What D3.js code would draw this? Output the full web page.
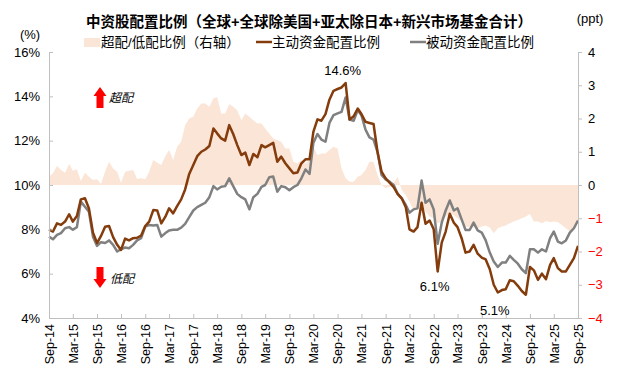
<!DOCTYPE html>
<html>
<head>
<meta charset="utf-8">
<script src="https://cdn.jsdelivr.net/npm/d3@7"></script>
<style>
  body { margin: 0; background: #fff; }
  svg text { font-family: "Liberation Sans", Arial, "Noto Sans CJK SC", sans-serif; }
</style>
</head>
<body>
<div id="chart"></div>
<script>
// monthly data, Sep-14 .. Sep-25
var startMonth = new Date(2014, 8, 1);
var endMonth = new Date(2025, 8, 1);

// 主动资金配置比例 (%)
var activeShare = [
  8.0, 7.9, 8.27, 8.2, 8.35, 8.68, 8.35, 8.6, 9.35, 9.4, 8.95, 7.85, 7.38, 7.7, 8.12, 8.15,
  7.65, 7.3, 7.07, 7.58, 7.5, 7.6, 7.62, 7.72, 8.15, 8.35, 8.87, 8.85, 8.27, 8.57, 8.95, 8.72,
  9.05, 9.35, 9.8, 10.5, 10.9, 11.3, 11.5, 11.6, 11.76, 12.55, 12.33, 12.1, 12.0, 12.7, 12.3, 11.8,
  11.35, 11.46, 10.9, 11.4, 11.25, 11.8, 11.7, 11.8, 11.9, 11.05, 11.28, 10.98, 10.75, 10.53, 10.56, 10.98,
  11.16, 11.16, 12.4, 12.96, 12.9, 13.2, 13.85, 14.25, 14.33, 14.4, 14.6, 12.95, 13.1, 13.45, 13.2, 12.85,
  12.8, 12.75, 11.5, 10.6, 10.3, 10.1, 9.9, 9.6, 9.4, 9.0, 8.0, 7.9, 8.1, 9.2, 8.25, 8.4,
  8.0, 6.1, 7.4, 7.9, 8.7, 8.3, 8.1, 7.6, 6.95, 7.0, 7.3, 6.9, 6.72, 6.64, 6.2, 5.5,
  5.15, 5.26, 5.3, 5.7, 5.66, 5.45, 5.22, 5.05, 6.3, 6.15, 5.72, 6.0, 5.75, 6.4, 6.7, 6.25,
  6.1, 6.1, 6.4, 6.7, 7.25
];

// 被动资金配置比例 (%)
var passiveShare = [
  7.67, 7.55, 7.75, 7.83, 8.05, 8.1, 7.98, 8.1, 9.25, 9.02, 8.8, 7.67, 7.25, 7.42, 7.38, 7.5,
  7.3, 7.0, 7.1, 7.18, 7.15, 7.3, 7.5, 7.6, 8.12, 8.2, 8.17, 8.2, 7.67, 7.83, 7.95, 7.98,
  7.98, 8.08, 8.25, 8.55, 8.85, 9.0, 9.1, 9.2, 9.45, 9.95, 9.8, 9.92, 9.95, 10.3, 9.95, 9.6,
  9.45, 9.35, 8.9, 9.45, 9.6, 9.92, 10.0, 10.35, 10.38, 9.7, 9.95, 9.9, 9.76, 9.9, 10.0, 10.3,
  10.7, 10.5, 11.9, 12.3, 12.05, 11.95, 12.8, 13.15, 13.23, 13.3, 13.95, 12.95, 12.9, 13.38, 13.15, 12.5,
  12.15, 12.05, 11.5, 10.45, 10.25, 10.15, 10.0, 9.6, 9.4, 9.1, 8.75, 8.9, 8.95, 10.2, 9.2, 9.35,
  8.9, 7.35, 8.3, 8.85, 9.3, 8.85, 8.95, 8.45, 7.97, 7.97, 8.3, 7.95, 7.85, 7.5, 6.95, 6.55,
  6.3, 6.5, 6.5, 6.8, 6.62, 6.45, 6.2, 6.02, 7.1, 7.1, 6.95, 7.1, 7.0, 7.6, 7.9, 7.45,
  7.37, 7.5, 7.85, 8.05, 8.4
];

// 超配/低配比例 (ppt, right axis)
var overUnder = [
  0.25, 0.35, 0.57, 0.45, 0.37, 0.63, 0.43, 0.47, 0.12, 0.37, 0.25, 0.15, 0.17, 0.03, 0.4, 0.7,
  0.5, 0.4, 0.07, 0.4, 0.43, 0.45, 0.18, 0.2, 0.17, 0.4, 0.75, 0.67, 0.6, 0.87, 1.05, 0.75,
  1.15, 1.3, 1.8, 2.0, 2.05, 2.3, 2.45, 2.45, 2.35, 2.6, 2.65, 2.15, 2.15, 2.43, 2.35, 2.25,
  1.95, 2.15, 2.05, 1.95, 1.85, 1.85, 1.7, 1.55, 1.4, 1.35, 1.3, 1.1, 1.1, 0.7, 0.65, 0.75,
  0.65, 0.75, 1.15, 0.9, 0.95, 0.95, 1.05, 1.15, 1.1, 0.5, 0.2, 0.1, 0.1, 0.25, 0.3, 0.45,
  0.7, 0.7, 0.3, 0.0, -0.1, -0.05, 0.05, 0.25, -0.15, -0.3, -0.5, -0.75, -0.7, -0.6, -0.8, -0.95,
  -1.0, -1.15, -1.1, -0.95, -0.85, -0.9, -1.0, -1.1, -1.25, -1.27, -1.28, -1.3, -1.25, -1.22, -1.28, -1.45,
  -1.3, -1.25, -1.22, -1.15, -1.1, -1.05, -1.0, -0.95, -0.87, -1.1, -1.1, -1.15, -1.08, -1.12, -1.1, -1.12,
  -1.2, -1.3, -1.4, -1.3, -1.1
];

var leftTicks = [4, 6, 8, 10, 12, 14, 16];
var rightTicks = [-4, -3, -2, -1, 0, 1, 2, 3, 4];

// labelled points: [index, text, vertical offset]
var callouts = [[74, "14.6%", -8], [97, "6.1%", 20], [112, "5.1%", 22]];

var legendItems = ["超配/低配比例（右轴）", "主动资金配置比例", "被动资金配置比例"];

var months = activeShare.map(function(d, i) { return d3.timeMonth.offset(startMonth, i); });

var W = 617, H = 373;
var margin = {top: 52, right: 39, bottom: 55, left: 49};
var width = W - margin.left - margin.right,
    height = H - margin.top - margin.bottom;

var svg = d3.select("#chart").append("svg")
    .attr("width", W)
    .attr("height", H);

var g = svg.append("g")
    .attr("transform", "translate(" + margin.left + "," + margin.top + ")");

// scales
var x = d3.scaleTime().domain([startMonth, endMonth]).range([0, width]);
var yL = d3.scaleLinear().domain([4, 16]).range([height, 0]);
var yR = d3.scaleLinear().domain([-4, 4]).range([height, 0]);

var axisColor = "#bfbfbf";

// area on right axis
var area = d3.area()
    .x(function(d, i) { return x(months[i]); })
    .y0(yR(0))
    .y1(function(d) { return yR(d); });

g.append("path")
    .attr("d", area(overUnder))
    .style("fill", "#fbe5d6")
    .style("stroke", "none");

// lines
var line = d3.line()
    .x(function(d, i) { return x(months[i]); })
    .y(function(d) { return yL(d); });

g.append("path")
    .attr("d", line(passiveShare))
    .style("fill", "none")
    .style("stroke", "#808080")
    .style("stroke-width", 2.5)
    .style("stroke-linejoin", "round");

g.append("path")
    .attr("d", line(activeShare))
    .style("fill", "none")
    .style("stroke", "#843c0c")
    .style("stroke-width", 2.5)
    .style("stroke-linejoin", "round");

// x axis, every 6 months starting Sep-14
var xTicks = d3.timeMonth.range(startMonth, d3.timeMonth.offset(endMonth, 1), 6);
var xAxis = g.append("g")
    .attr("transform", "translate(0," + height + ")")
    .call(d3.axisBottom(x).tickValues(xTicks).tickFormat(d3.timeFormat("%b-%y")).tickSize(-4).tickSizeOuter(0));
xAxis.select(".domain").attr("stroke", axisColor);
xAxis.selectAll(".tick line").attr("stroke", axisColor);
xAxis.selectAll(".tick text")
    .attr("transform", "rotate(-90)")
    .attr("x", -6)
    .attr("y", 0)
    .attr("dy", "0.35em")
    .style("text-anchor", "end")
    .style("font-size", "12.5px")
    .style("fill", "#000");

// left axis
var leftAxis = g.append("g")
    .call(d3.axisLeft(yL).tickValues(leftTicks).tickFormat(function(d) { return d + "%"; }).tickSize(-4).tickSizeOuter(0).tickPadding(9));
leftAxis.select(".domain").attr("stroke", axisColor);
leftAxis.selectAll(".tick line").attr("stroke", axisColor);
leftAxis.selectAll(".tick text").style("font-size", "13px").style("fill", "#000");

// right axis
var rightAxis = g.append("g")
    .attr("transform", "translate(" + width + ",0)")
    .call(d3.axisRight(yR).tickValues(rightTicks).tickSize(4).tickSizeOuter(0).tickPadding(6));
rightAxis.select(".domain").attr("stroke", axisColor);
rightAxis.selectAll(".tick line").attr("stroke", axisColor);
rightAxis.selectAll(".tick text")
    .style("font-size", "13px")
    .style("fill", function(d) { return d < 0 ? "#ff0000" : "#000"; });

// callout labels
g.selectAll(".callout")
    .data(callouts)
    .enter()
    .append("text")
    .attr("x", function(d) { return x(months[d[0]]) - 3; })
    .attr("y", function(d) { return yL(activeShare[d[0]]) + d[2]; })
    .style("text-anchor", "middle")
    .style("font-size", "13px")
    .text(function(d) { return d[1]; });

// over / under arrows
function blockArrow(cx, tipY, dir) {
  // dir = -1 points up, 1 points down
  var headW = 6.5, shaftW = 3.5, headH = 9, len = 21;
  var baseY = tipY - dir * len, neckY = tipY - dir * headH;
  return "M" + cx + "," + tipY +
    "L" + (cx + headW) + "," + neckY +
    "L" + (cx + shaftW) + "," + neckY +
    "L" + (cx + shaftW) + "," + baseY +
    "L" + (cx - shaftW) + "," + baseY +
    "L" + (cx - shaftW) + "," + neckY +
    "L" + (cx - headW) + "," + neckY + "Z";
}
svg.append("path").attr("d", blockArrow(100, 87, -1)).style("fill", "#ff0000");
svg.append("path").attr("d", blockArrow(100, 288, 1)).style("fill", "#ff0000");
svg.append("text").attr("x", 109).attr("y", 102)
    .style("font-size", "12px").style("font-style", "italic").text("超配");
svg.append("text").attr("x", 110).attr("y", 283)
    .style("font-size", "12px").style("font-style", "italic").text("低配");

// title and units
svg.append("text")
    .attr("x", 309).attr("y", 27)
    .style("text-anchor", "middle")
    .style("font-size", "14.5px")
    .style("font-weight", "bold")
    .text("中资股配置比例（全球+全球除美国+亚太除日本+新兴市场基金合计）");
svg.append("text").attr("x", 30).attr("y", 39)
    .style("text-anchor", "middle").style("font-size", "13px").text("(%)");
svg.append("text").attr("x", 590).attr("y", 23)
    .style("text-anchor", "middle").style("font-size", "13px").text("(ppt)");

// legend
var legend = svg.append("g").attr("transform", "translate(0,47)");
legend.append("rect").attr("x", 84).attr("y", -9).attr("width", 16).attr("height", 9).style("fill", "#fbe5d6");
legend.append("text").attr("x", 101).attr("y", 0).style("font-size", "13.5px").text(legendItems[0]);
legend.append("line").attr("x1", 256).attr("x2", 272).attr("y1", -5).attr("y2", -5)
    .style("stroke", "#843c0c").style("stroke-width", 2.5);
legend.append("text").attr("x", 272).attr("y", 0).style("font-size", "13.5px").text(legendItems[1]);
legend.append("line").attr("x1", 410).attr("x2", 426).attr("y1", -5).attr("y2", -5)
    .style("stroke", "#808080").style("stroke-width", 2.5);
legend.append("text").attr("x", 426).attr("y", 0).style("font-size", "13.5px").text(legendItems[2]);
</script>
</body>
</html>
